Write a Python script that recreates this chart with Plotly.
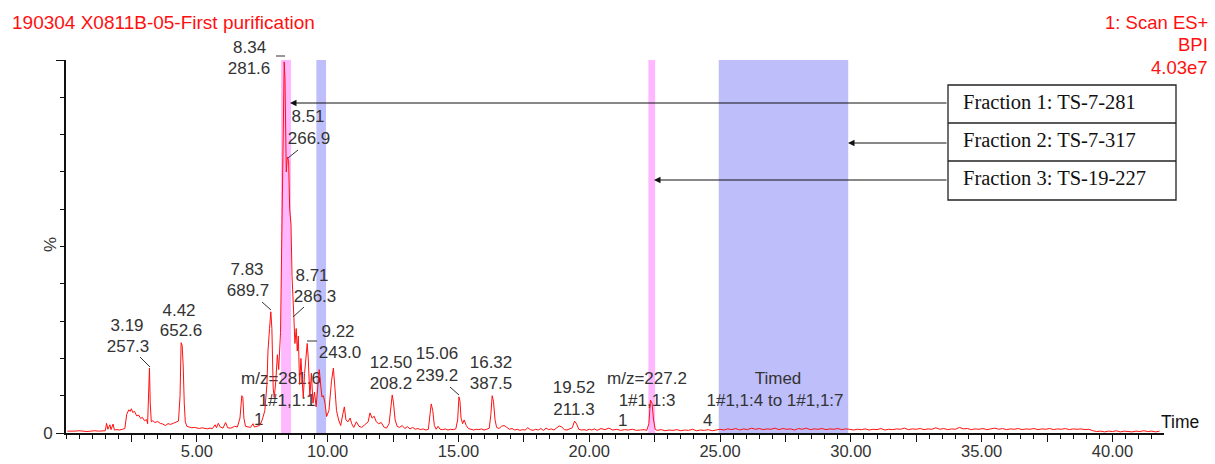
import plotly.graph_objects as go

# ---------------- data ----------------
rt = [0.05, 0.2, 0.35, 0.5, 0.65, 0.8, 0.95, 1.1, 1.25, 1.4,
      1.5, 1.55, 1.6, 1.68, 1.72, 1.8, 1.85, 1.95, 2.05, 2.15, 2.25,
      2.32, 2.4, 2.45, 2.5, 2.55, 2.62, 2.7, 2.78, 2.85, 2.92, 3.0, 3.08, 3.12, 3.16, 3.19, 3.22, 3.26,
      3.32, 3.4, 3.5, 3.6, 3.7, 3.8, 3.9, 4.0, 4.1, 4.2, 4.3, 4.36, 4.40, 4.44, 4.48, 4.52, 4.56,
      4.62, 4.7, 4.8, 4.9, 5.0, 5.1, 5.2, 5.3, 5.4, 5.5, 5.6, 5.7, 5.75, 5.82, 5.9, 6.0, 6.1, 6.18,
      6.3, 6.45, 6.55, 6.65, 6.72, 6.76, 6.8, 6.86, 6.95, 7.05, 7.15, 7.2, 7.3, 7.4, 7.5, 7.6, 7.68,
      7.72, 7.78, 7.83, 7.87, 7.92, 7.96, 8.02, 8.08, 8.13, 8.2, 8.26, 8.3, 8.34, 8.37, 8.42, 8.46,
      8.51, 8.55, 8.6, 8.64, 8.68, 8.71, 8.75, 8.8, 8.84, 8.88, 8.93, 8.98, 9.02, 9.07, 9.12, 9.18,
      9.22, 9.26, 9.32, 9.38, 9.44, 9.5, 9.56, 9.62, 9.68, 9.72, 9.78, 9.84, 9.9, 9.96, 10.05, 10.15,
      10.22, 10.28, 10.34, 10.42, 10.5, 10.58, 10.64, 10.7, 10.78, 10.86, 10.92, 11.0, 11.1, 11.2,
      11.3, 11.42, 11.55, 11.62, 11.7, 11.78, 11.86, 11.95, 12.05, 12.15, 12.25, 12.35, 12.42, 12.47,
      12.52, 12.58, 12.66, 12.75, 12.85, 12.95, 13.05, 13.15, 13.25, 13.35, 13.45, 13.55, 13.65,
      13.75, 13.85, 13.9, 13.96, 14.02, 14.08, 14.15, 14.22, 14.3, 14.4, 14.5, 14.6, 14.7, 14.8,
      14.9, 14.97, 15.02, 15.06, 15.1, 15.16, 15.22, 15.3, 15.38, 15.48, 15.58, 15.68, 15.78, 15.88,
      15.98, 16.08, 16.18, 16.24, 16.29, 16.34, 16.4, 16.46, 16.55, 16.65, 16.75, 16.85, 16.95,
      17.05, 17.15, 17.25, 17.35, 17.45, 17.55, 17.65, 17.75, 17.85, 17.95, 18.05, 18.15, 18.25,
      18.35, 18.45, 18.55, 18.65, 18.75, 18.85, 18.95, 19.05, 19.15, 19.25, 19.35, 19.44, 19.52,
      19.6, 19.7, 19.8, 19.9, 20.0, 20.1, 20.2, 20.3, 20.45, 20.6, 20.75, 20.9, 21.05, 21.2, 21.35,
      21.5, 21.65, 21.8, 21.95, 22.1, 22.2, 22.28, 22.34, 22.4, 22.46, 22.52, 22.6,
      22.75, 22.9, 23.05, 23.2, 23.35, 23.5, 23.65, 23.8, 23.95, 24.1, 24.25, 24.4, 24.55, 24.7,
      24.85, 25.0, 25.15, 25.3, 25.45, 25.6, 25.75, 25.9, 26.05, 26.2, 26.35, 26.5, 26.65, 26.8,
      26.95, 27.1, 27.25, 27.4, 27.55, 27.7, 27.85, 28.0, 28.15, 28.3, 28.45, 28.6, 28.75, 28.9,
      29.05, 29.2, 29.35, 29.5, 29.65, 29.8, 29.95, 30.1, 30.25, 30.4, 30.55, 30.7, 30.85, 31.0,
      31.15, 31.3, 31.45, 31.6, 31.75, 31.9, 32.05, 32.2, 32.35, 32.5, 32.65, 32.8, 32.95, 33.1,
      33.25, 33.4, 33.55, 33.7, 33.85, 34.0, 34.15, 34.3, 34.45, 34.6, 34.75, 34.9, 35.05, 35.2,
      35.35, 35.5, 35.65, 35.8, 35.95, 36.1, 36.25, 36.4, 36.55, 36.7, 36.85, 37.0, 37.15, 37.3,
      37.45, 37.6, 37.75, 37.9, 38.05, 38.2, 38.35, 38.5, 38.65, 38.8, 38.95, 39.1, 39.25, 39.4,
      39.55, 39.7, 39.85, 40.0, 40.15, 40.3, 40.45, 40.6, 40.75, 40.9, 41.05, 41.2, 41.35, 41.5,
      41.65, 41.8]

bpi = [0.5, 0.4, 0.5, 0.6, 0.5, 0.4, 0.5, 0.6, 0.5, 0.5,
       0.6, 2.6, 1.0, 2.2, 0.9, 2.4, 0.8, 0.9, 0.8, 1.0, 1.2,
       5.0, 6.2, 5.8, 6.5, 5.5, 5.8, 4.6, 4.8, 3.9, 4.2, 3.3, 3.6, 2.5, 10.0, 17.4, 8.0, 3.0,
       3.3, 2.8, 3.1, 2.6, 2.4, 2.0, 2.5, 2.3, 2.6, 2.9, 3.2, 10.0, 24.2, 23.5, 18.0, 8.0, 3.0,
       1.8, 1.6, 1.4, 1.5, 1.3, 1.2, 1.4, 1.2, 1.1, 1.3, 1.2, 2.2, 1.4, 2.6, 1.6, 1.3, 2.8, 1.4,
       1.3, 1.8, 1.6, 4.0, 10.0, 9.5, 4.0, 1.8, 1.7, 1.5, 2.5, 1.6, 1.8, 2.0, 3.5, 6.0, 13.0,
       22.0, 28.0, 32.5, 28.0, 12.0, 9.5, 14.0, 21.0, 17.0, 27.0, 60.0, 92.0, 99.5, 95.0, 70.0, 74.0,
       73.0, 60.0, 56.0, 42.0, 33.0, 31.0, 24.0, 28.0, 22.0, 26.0, 13.0, 20.0, 15.0, 9.5, 16.0, 22.0,
       24.0, 20.0, 9.7, 16.0, 8.0, 11.0, 7.0, 12.0, 17.0, 14.0, 9.7, 10.0, 8.0, 4.4, 6.0, 14.0,
       17.4, 12.0, 6.0, 3.5, 2.0, 5.0, 7.0, 3.5, 3.0, 4.0, 2.5, 1.5, 3.0, 1.8,
       1.5, 2.2, 3.0, 5.4, 4.0, 4.5, 3.0, 2.5, 2.8, 1.6, 1.3, 2.5, 7.0, 10.2,
       8.0, 3.5, 1.8, 1.5, 2.0, 1.2, 1.7, 1.1, 1.5, 1.0, 1.2, 0.9, 1.1,
       0.8, 1.0, 4.0, 7.8, 6.0, 2.0, 1.0, 1.8, 1.0, 0.9, 1.1, 0.8, 1.0, 0.9,
       1.1, 3.5, 9.7, 8.5, 4.0, 2.5, 3.5, 2.0, 1.2, 1.0, 0.8, 1.0, 0.9, 1.1,
       0.8, 1.0, 1.3, 5.0, 10.0, 8.5, 3.5, 1.5, 1.2, 1.8, 2.0, 1.5, 1.0,
       1.2, 0.8, 1.0, 0.7, 0.9, 0.8, 1.4, 0.9, 0.7, 1.0, 0.8, 1.2, 0.7,
       1.3, 0.9, 1.1, 0.8, 1.4, 1.9, 1.6, 0.9, 0.8, 1.0, 1.4, 3.2, 2.4,
       1.0, 0.8, 0.9, 0.7, 1.0, 0.8, 1.1, 0.7, 1.2, 0.9, 1.3, 0.8, 1.0, 0.7, 0.9,
       0.8, 1.0, 0.7, 0.8, 0.9, 0.7, 2.5, 8.8, 8.0, 3.5, 1.0, 0.7,
       0.9, 0.6, 0.8, 0.7, 0.9, 0.6, 0.8, 0.7, 1.0, 0.6, 0.8, 0.7, 0.9, 0.6,
       0.8, 1.0, 0.8, 1.1, 0.9, 1.2, 0.8, 1.1, 0.9, 1.3, 1.0, 1.2, 0.9, 1.1,
       1.0, 1.3, 0.9, 1.2, 1.0, 1.1, 0.8, 1.2, 1.0, 1.3, 0.9, 1.1, 1.0, 1.2,
       0.9, 1.1, 1.0, 1.2, 0.9, 1.1, 1.0, 0.8, 1.0, 0.9, 1.1, 0.8, 1.0, 0.9,
       1.2, 0.8, 1.0, 0.9, 1.1, 1.0, 1.3, 0.9, 1.1, 1.0, 1.2, 0.9, 1.1, 1.0,
       1.4, 1.0, 1.2, 0.9, 1.1, 1.0, 1.5, 1.1, 1.2, 0.9, 1.1, 1.0, 1.2, 0.9,
       1.1, 1.3, 1.0, 1.2, 0.9, 1.1, 1.0, 1.2, 0.9, 1.1, 1.0, 1.2, 0.9, 1.1,
       1.0, 1.2, 0.9, 1.1, 1.0, 1.2, 0.9, 1.1, 1.0, 1.1, 0.9, 1.0, 0.6, 0.4,
       0.5, 0.3, 0.5, 0.4, 0.6, 0.3, 0.5, 0.4, 0.3, 0.5, 0.4, 0.6, 0.4, 0.5,
       0.3, 0.5]

# fraction collection windows (min) and their colours
frac_start = [8.22, 9.57, 22.26, 24.95]
frac_end = [8.60, 9.94, 22.52, 29.90]
frac_kind = ["pink", "blue", "pink", "blue"]

fraction_names = ["Fraction 1: TS-7-281", "Fraction 2: TS-7-317", "Fraction 3: TS-19-227"]

x_tick_vals = [2.5, 5, 7.5, 10, 12.5, 15, 17.5, 20, 22.5, 25, 27.5, 30, 32.5, 35, 37.5, 40]
x_tick_text = ["", "5.00", "", "10.00", "", "15.00", "", "20.00", "", "25.00", "", "30.00",
               "", "35.00", "", "40.00"]

# ---------------- geometry helpers ----------------
W, H = 1215, 464
ML, MR, MT, MB = 66, 51, 60, 31
PW, PH = W - ML - MR, H - MT - MB
XMAX, YMAX = 41.97, 100.0


def dx(px):
    return (px - ML) / PW * XMAX


def dy(py):
    return (H - MB - py) / PH * YMAX


def pxp(px):
    return (px - ML) / PW


def pyp(py):
    return (H - MB - py) / PH


FONT = "Liberation Sans, Arial, sans-serif"
TXT = "#333333"
RED = "#ff1010"
PINK = "#ffb8ff"
BLUE = "#bebefa"

# peak / fraction labels inside the plot: (text, px, py, textposition)
labels = [
    ("281.6", 249, 70, "middle center"),
    ("8.51", 308, 118, "middle center"), ("266.9", 309, 140, "middle center"),
    ("7.83", 247, 271, "middle center"), ("689.7", 248, 292, "middle center"),
    ("8.71", 312, 277, "middle center"), ("286.3", 315, 298, "middle center"),
    ("9.22", 338, 333, "middle center"), ("243.0", 340, 354, "middle center"),
    ("3.19", 127, 327, "middle center"), ("257.3", 128, 348, "middle center"),
    ("4.42", 179, 312, "middle center"), ("652.6", 181, 332, "middle center"),
    ("12.50", 391, 364, "middle center"), ("208.2", 391, 385, "middle center"),
    ("15.06", 437, 355, "middle center"), ("239.2", 437, 377, "middle center"),
    ("16.32", 491, 364, "middle center"), ("387.5", 491, 385, "middle center"),
    ("19.52", 574, 389, "middle center"), ("211.3", 574, 411, "middle center"),
    ("m/z=281.6", 281, 380, "middle center"), ("1#1,1:1", 287, 402, "middle center"),
    ("1", 254, 421, "middle right"),
    ("m/z=227.2", 647, 380, "middle center"), ("1#1,1:3", 647, 402, "middle center"),
    ("1", 618, 422, "middle right"),
    ("Timed", 778, 380, "middle center"), ("1#1,1:4 to 1#1,1:7", 775, 402, "middle center"),
    ("4", 703, 422, "middle right"),
]

leaders = [(276, 56, 285, 56), (298, 150, 288, 158), (262, 302, 271, 310),
           (304, 307, 293, 317), (307, 341, 317, 341), (140, 357, 150, 367),
           (450, 387, 459, 395)]

fig = go.Figure()

fig.add_trace(go.Scatter(
    x=[dx(l[1]) for l in labels], y=[dy(l[2]) for l in labels],
    text=[l[0] for l in labels], textposition=[l[3] for l in labels],
    mode="text", textfont=dict(family=FONT, size=17, color=TXT),
    cliponaxis=False, hoverinfo="skip", showlegend=False))

fig.add_trace(go.Scatter(
    x=rt, y=bpi, mode="lines", line=dict(color=RED, width=1),
    showlegend=False, hoverinfo="skip"))

shapes = []
for s, e, k in zip(frac_start, frac_end, frac_kind):
    shapes.append(dict(type="rect", xref="x", yref="y", x0=s, x1=e, y0=0, y1=YMAX,
                       fillcolor=PINK if k == "pink" else BLUE, line=dict(width=0),
                       layer="below"))
for x0, y0, x1, y1 in leaders:
    shapes.append(dict(type="line", xref="paper", yref="paper", x0=pxp(x0), y0=pyp(y0),
                       x1=pxp(x1), y1=pyp(y1), line=dict(color=TXT, width=1)))

# fraction table box
bx0, bx1, by0, by1 = 948, 1176, 85, 200
shapes.append(dict(type="rect", xref="paper", yref="paper", x0=pxp(bx0), x1=pxp(bx1),
                   y0=pyp(by1), y1=pyp(by0), line=dict(color="#222", width=1.3),
                   fillcolor="white", layer="above"))
for ry in (123, 161):
    shapes.append(dict(type="line", xref="paper", yref="paper", x0=pxp(bx0), x1=pxp(bx1),
                       y0=pyp(ry), y1=pyp(ry), line=dict(color="#222", width=1.3)))

annotations = []
row_text_y = [102, 140, 178]
for name, ty in zip(fraction_names, row_text_y):
    annotations.append(dict(text=name, xref="paper", yref="paper", x=pxp(961), y=pyp(ty),
                            xanchor="left", yanchor="middle", showarrow=False,
                            font=dict(family="Liberation Serif, Times New Roman, serif",
                                      size=20.5, color="#111")))

# arrows: tail at box edge, tip at the fraction
arrow_tips = [(290, 103), (848, 143), (654, 180)]
for tx, ty in arrow_tips:
    annotations.append(dict(text="", x=dx(tx), y=dy(ty), xref="x", yref="y",
                            ax=bx0 - tx, ay=0, showarrow=True, arrowhead=2,
                            arrowsize=1.3, arrowwidth=1, arrowcolor="#111"))

# top peak label (above the plot area)
annotations.append(dict(text="8.34", xref="paper", yref="paper", x=pxp(249), y=pyp(48),
                        xanchor="center", yanchor="middle", showarrow=False,
                        font=dict(family=FONT, size=17, color=TXT)))

# header texts
annotations.append(dict(text="190304 X0811B-05-First purification", xref="paper", yref="paper",
                        x=pxp(10), y=pyp(23), xanchor="left", yanchor="middle",
                        showarrow=False, font=dict(family=FONT, size=19, color=RED)))
for t, ty in [("1: Scan ES+", 23), ("BPI", 45), ("4.03e7", 67)]:
    annotations.append(dict(text=t, xref="paper", yref="paper", x=pxp(1210), y=pyp(ty),
                            xanchor="right", yanchor="middle", showarrow=False,
                            font=dict(family=FONT, size=18.5, color=RED)))
annotations.append(dict(text="Time", xref="paper", yref="paper", x=pxp(1180), y=pyp(422),
                        xanchor="center", yanchor="middle", showarrow=False,
                        font=dict(family=FONT, size=17.5, color="#111")))
annotations.append(dict(text="%", xref="paper", yref="paper", x=pxp(50), y=pyp(245),
                        xanchor="center", yanchor="middle", showarrow=False, textangle=-90,
                        font=dict(family=FONT, size=17, color=TXT)))

fig.update_layout(
    width=W, height=H, margin=dict(l=ML, r=MR, t=MT, b=MB, autoexpand=False),
    paper_bgcolor="white", plot_bgcolor="white",
    font=dict(family=FONT, size=17, color=TXT),
    shapes=shapes, annotations=annotations, showlegend=False,
    xaxis=dict(range=[0, XMAX], showgrid=False, zeroline=False, showline=True, automargin=False,
               linecolor="#111", linewidth=2, ticks="outside", ticklen=7, tickwidth=1,
               tickcolor="#111", tickmode="array", tickvals=x_tick_vals, ticktext=x_tick_text,
               tickfont=dict(family=FONT, size=16.5, color=TXT), ticklabelstandoff=-5,
               minor=dict(dtick=0.5, tick0=0, ticks="outside", ticklen=4, tickcolor="#111",
                          tickwidth=1)),
    yaxis=dict(range=[0, YMAX], showgrid=False, zeroline=False, showline=True, automargin=False,
               linecolor="#111", linewidth=2, ticks="outside", ticklen=8, tickwidth=1,
               tickcolor="#111", tickmode="array", tickvals=[0, 100], ticktext=["0", ""],
               tickfont=dict(family=FONT, size=17, color=TXT),
               minor=dict(dtick=10, tick0=0, ticks="outside", ticklen=4, tickcolor="#111",
                          tickwidth=1)),
)

fig.write_html("out.html")
